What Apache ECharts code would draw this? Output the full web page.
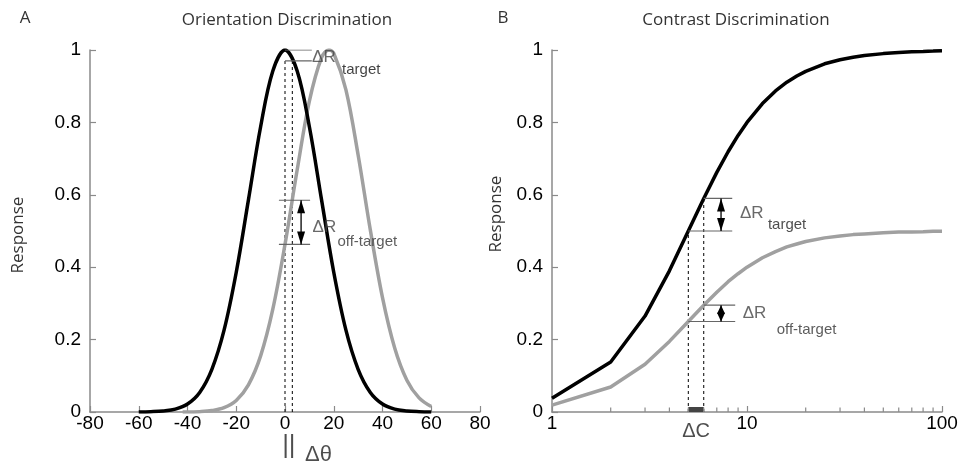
<!DOCTYPE html>
<html>
<head>
<meta charset="utf-8">
<script src="https://cdn.jsdelivr.net/npm/echarts@6/dist/echarts.min.js"></script>
<style>
html,body{margin:0;padding:0;background:#fff;}
#chart{width:963px;height:468px;}
</style>
</head>
<body>
<div id="chart"></div>
<script>
// ---------- Panel A: orientation discrimination ----------
const orientX = [-60,-55,-50,-45,-40,-35,-30,-25,-20,-15,-10,-5,0,5,10,15,20,25,30,35,40,45,50,55,60];
const orientTargetResp = [0.000,0.001,0.003,0.008,0.022,0.054,0.118,0.226,0.386,0.586,0.788,0.942,1.000,0.942,0.788,0.586,0.386,0.226,0.118,0.054,0.022,0.008,0.003,0.001,0.000];
const orientShiftX = [-42,-40,-35,-30,-25,-20,-15,-10,-5,0,5,10,15,18,20,25,30,35,40,45,50,55,60];
const orientOffResp = [0.000,0.000,0.001,0.004,0.012,0.032,0.075,0.155,0.284,0.463,0.669,0.859,0.979,1.000,0.991,0.890,0.710,0.503,0.316,0.177,0.088,0.039,0.015];
const orientProbeX = [0, 3];
const orientProbeTop = [0.97, 0.97];
const orientTargetLevels = [1.0, 0.97];
const orientTargetSpan = [0, 11];
const orientOffLevels = [0.463, 0.585];
const orientOffSpan = [-2.5, 10.3];
const orientArrowX = 6.6;

// ---------- Panel B: contrast discrimination ----------
const contrastX = [1,2,3,4,5,6,7,8,9,10,12,14,16,18,20,25,30,35,40,50,60,70,80,90,100];
const contrastTargetResp = [0.038,0.138,0.265,0.390,0.500,0.590,0.662,0.719,0.764,0.800,0.852,0.887,0.911,0.928,0.941,0.962,0.973,0.980,0.985,0.990,0.993,0.995,0.996,0.997,0.998];
const contrastOffResp = [0.019,0.069,0.132,0.195,0.250,0.295,0.331,0.360,0.382,0.400,0.426,0.443,0.456,0.464,0.471,0.481,0.486,0.490,0.492,0.495,0.497,0.497,0.498,0.499,0.499];
const contrastMinorTicks = [2,3,4,5,6,7,8,9,20,30,40,50,60,70,80,90];
const contrastProbeX = [5, 6];
const contrastTargetLevels = [0.500, 0.590];
const contrastTargetEnd = 8.4;
const contrastOffLevels = [0.250, 0.295];
const contrastOffEnd = 8.7;
const contrastArrowX = 7.36;

// tick settings
const orientTicks = {min:-80, max:80, interval:20};
const responseTicks = {min:0, max:1, interval:0.2};

const AX = '#8a8a8a';
const tickFont = {color:'#000', fontSize:19, fontFamily:'"Liberation Sans", Arial, sans-serif'};
const titleFont = '"Open Sans", sans-serif';

function axisCommon(){
  return {
    axisLine:{show:true, onZero:false, lineStyle:{color:AX, width:1.5}},
    axisTick:{show:true, inside:true, length:6, lineStyle:{color:AX, width:1.2}},
    splitLine:{show:false}
  };
}

function pairs(xs, ys){ return xs.map((x,i)=>[x, ys[i]]); }

function seg(name, xi, data, color, width, type){
  return {type:'line', name, xAxisIndex:xi, yAxisIndex:xi, data, symbol:'none',
    silent:true, z:type==='dashed'?1:3,
    lineStyle:{color, width, type: type==='dashed' ? [3,3] : 'solid'}};
}

function arrowSeries(xi, data){
  return {type:'custom', xAxisIndex:xi, yAxisIndex:xi, silent:true, z:5,
    encode:{x:0, y:[1,2]}, data,
    renderItem:function(params, api){
      const x = api.value(0), a = api.value(1), b = api.value(2);
      const pa = api.coord([x, a]), pb = api.coord([x, b]);
      const top = Math.min(pa[1], pb[1]), bot = Math.max(pa[1], pb[1]);
      const px = pa[0];
      const hl = Math.min(13, (bot-top)/2 + 0.5), hw = 4;
      return {type:'group', children:[
        {type:'line', shape:{x1:px, y1:top, x2:px, y2:bot}, style:{stroke:'#000', lineWidth:1.3}},
        {type:'polygon', shape:{points:[[px,top],[px-hw,top+hl],[px+hw,top+hl]]}, style:{fill:'#000'}},
        {type:'polygon', shape:{points:[[px,bot],[px-hw,bot-hl],[px+hw,bot-hl]]}, style:{fill:'#000'}}
      ]};
    }};
}

function textSeries(xi, items){
  return {type:'scatter', xAxisIndex:xi, yAxisIndex:xi, symbolSize:0, silent:true, z:6,
    data: items.map(it=>({value:[it.x, it.y], label:{show:true, position:'inside', offset:it.off||[0,0],
      formatter:it.t, align:it.align||'left', verticalAlign:'middle',
      fontSize:it.fs, color:it.c||'#222', fontFamily:it.ff||'"Liberation Sans", Arial, sans-serif',
      fontStyle:it.fst||'normal'}}))};
}

const series = [];
// Panel A curves
series.push(seg('probeA0', 0, [[orientProbeX[0],0],[orientProbeX[0],orientProbeTop[0]]], '#000', 1, 'dashed'));
series.push(seg('probeA1', 0, [[orientProbeX[1],0],[orientProbeX[1],orientProbeTop[1]]], '#000', 1, 'dashed'));
series.push({type:'line', xAxisIndex:0, yAxisIndex:0, data:pairs(orientShiftX, orientOffResp), symbol:'none', smooth:0.35, silent:true, z:2,
  lineStyle:{color:'#a0a0a0', width:3.5}});
series.push({type:'line', xAxisIndex:0, yAxisIndex:0, data:pairs(orientX, orientTargetResp), symbol:'none', smooth:0.35, silent:true, z:3,
  lineStyle:{color:'#000', width:3.5}});
orientTargetLevels.forEach((v,i)=>series.push(seg('tA'+i, 0, [[orientTargetSpan[0],v],[orientTargetSpan[1],v]], '#666', 1.2)));
orientOffLevels.forEach((v,i)=>series.push(seg('oA'+i, 0, [[orientOffSpan[0],v],[orientOffSpan[1],v]], '#666', 1.2)));
series.push(arrowSeries(0, [[orientArrowX, orientOffLevels[0], orientOffLevels[1]]]));
series.push(textSeries(0, [
  {x:11.1, y:0.98, t:'ΔR', fs:17, c:'#444'},
  {x:23.4, y:0.945, t:'target', fs:15, c:'#111'},
  {x:11.3, y:0.51, t:'ΔR', fs:17, c:'#444'},
  {x:21.5, y:0.47, t:'off-target', fs:15, c:'#333'},
  {x:0, y:0, t:'||', fs:25, c:'#222', off:[-3,34], fst:'italic'},
  {x:0, y:0, t:'Δθ', fs:22, c:'#222', off:[20,43]}
]));

// Panel B curves
series.push(seg('probeB0', 1, [[contrastProbeX[0],0],[contrastProbeX[0],contrastTargetLevels[0]]], '#000', 1, 'dashed'));
series.push(seg('probeB1', 1, [[contrastProbeX[1],0],[contrastProbeX[1],contrastTargetLevels[1]]], '#000', 1, 'dashed'));
series.push({type:'line', xAxisIndex:1, yAxisIndex:1, data:pairs(contrastX, contrastOffResp), symbol:'none', silent:true, z:2,
  lineStyle:{color:'#a0a0a0', width:3.5}});
series.push({type:'line', xAxisIndex:1, yAxisIndex:1, data:pairs(contrastX, contrastTargetResp), symbol:'none', silent:true, z:3,
  lineStyle:{color:'#000', width:3.5}});
contrastTargetLevels.forEach((v,i)=>series.push(seg('tB'+i, 1, [[contrastProbeX[i],v],[contrastTargetEnd,v]], '#666', 1.2)));
contrastOffLevels.forEach((v,i)=>series.push(seg('oB'+i, 1, [[contrastProbeX[i],v],[contrastOffEnd,v]], '#666', 1.2)));
series.push(arrowSeries(1, [[contrastArrowX, contrastTargetLevels[0], contrastTargetLevels[1]],[contrastArrowX, contrastOffLevels[0], contrastOffLevels[1]]]));
series.push(seg('dC', 1, [[contrastProbeX[0],0.007],[contrastProbeX[1],0.007]], '#444', 5));
// minor ticks on log axis
series.push({type:'custom', xAxisIndex:1, yAxisIndex:1, silent:true, z:4,
  data: contrastMinorTicks.map(v=>[v,0]),
  renderItem:function(params, api){
    const p = api.coord([api.value(0), 0]);
    return {type:'line', shape:{x1:p[0], y1:p[1], x2:p[0], y2:p[1]-4.5}, style:{stroke:AX, lineWidth:1.2}};
  }});
series.push(textSeries(1, [
  {x:9.2, y:0.55, t:'ΔR', fs:17, c:'#444'},
  {x:12.8, y:0.517, t:'target', fs:15, c:'#222'},
  {x:9.5, y:0.273, t:'ΔR', fs:17, c:'#444'},
  {x:14.2, y:0.227, t:'off-target', fs:15, c:'#333'},
  {x:5.48, y:0, t:'ΔC', fs:20, c:'#222', off:[0,19], align:'center'}
]));

const option = {
  animation:false,
  backgroundColor:'#ffffff',
  grid:[
    {left:90, right:483, top:50, bottom:56},
    {left:552, right:21, top:50, bottom:56}
  ],
  xAxis:[
    Object.assign({gridIndex:0, type:'value', min:orientTicks.min, max:orientTicks.max, interval:orientTicks.interval,
      axisLabel:Object.assign({margin:2}, tickFont)}, axisCommon()),
    Object.assign({gridIndex:1, type:'log', logBase:10, min:1, max:100,
      axisLabel:Object.assign({margin:2}, tickFont)}, axisCommon())
  ],
  yAxis:[
    Object.assign({gridIndex:0, type:'value', min:responseTicks.min, max:responseTicks.max, interval:responseTicks.interval,
      axisLabel:Object.assign({margin:9}, tickFont)}, axisCommon()),
    Object.assign({gridIndex:1, type:'value', min:responseTicks.min, max:responseTicks.max, interval:responseTicks.interval,
      axisLabel:Object.assign({margin:9}, tickFont)}, axisCommon())
  ],
  graphic:[
    {type:'text', x:25, y:18, style:{text:'A', font:'17px '+titleFont, fill:'#333', align:'center', verticalAlign:'middle'}},
    {type:'text', x:503, y:18, style:{text:'B', font:'17px '+titleFont, fill:'#333', align:'center', verticalAlign:'middle'}},
    {type:'text', x:287, y:20, style:{text:'Orientation Discrimination', font:'17px '+titleFont, fill:'#333', align:'center', verticalAlign:'middle'}},
    {type:'text', x:736, y:20, style:{text:'Contrast Discrimination', font:'17px '+titleFont, fill:'#333', align:'center', verticalAlign:'middle'}},
    {type:'text', x:18, y:235, rotation:Math.PI/2, style:{text:'Response', font:'17px '+titleFont, fill:'#333', align:'center', verticalAlign:'middle'}},
    {type:'text', x:496, y:214, rotation:Math.PI/2, style:{text:'Response', font:'17px '+titleFont, fill:'#333', align:'center', verticalAlign:'middle'}}
  ],
  series
};

const chart = echarts.init(document.getElementById('chart'), null, {renderer:'canvas'});
chart.setOption(option);
</script>
</body>
</html>
